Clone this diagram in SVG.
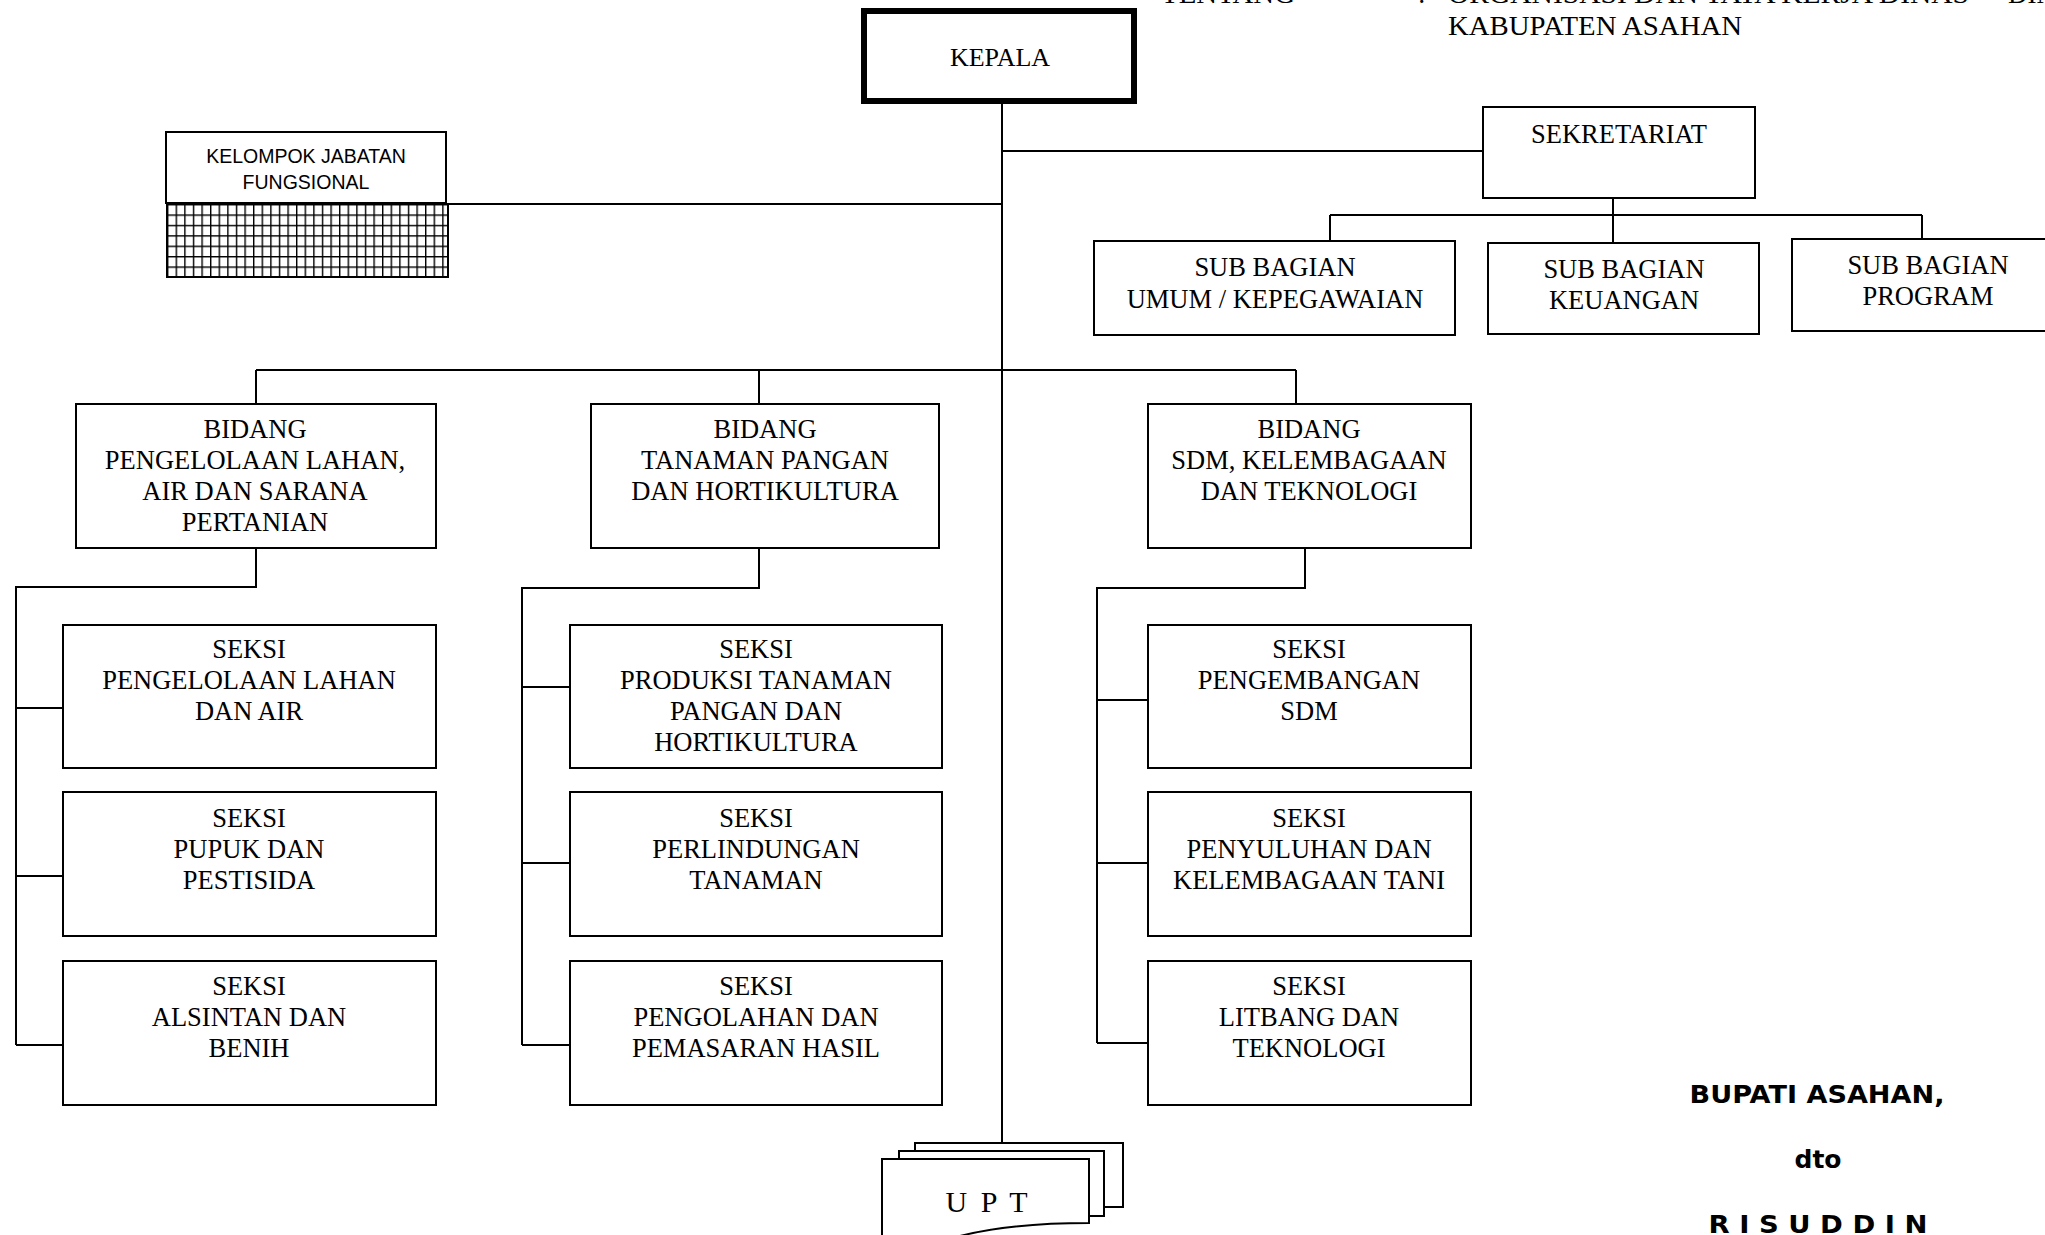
<svg xmlns="http://www.w3.org/2000/svg" width="2045" height="1235" viewBox="0 0 2045 1235">
  <style>
    .box { fill: #fff; stroke: #000; stroke-width: 2; }
    .ln { stroke: #000; stroke-width: 2; fill: none; }
    .t { font-family: "Liberation Serif", "Times New Roman", serif; font-size: 26.5px; text-anchor: middle; fill: #000; }
    .hdr { font-family: "Liberation Serif", "Times New Roman", serif; font-size: 27px; fill: #000; }
    .sans { font-family: "Liberation Sans", Arial, sans-serif; font-size: 19.5px; text-anchor: middle; fill: #000; }
    .sign { font-family: "DejaVu Sans", Verdana, sans-serif; font-weight: bold; font-size: 25px; text-anchor: middle; fill: #000; }
  </style>
  <defs>
    <pattern id="grid" width="8.6" height="10.4" patternUnits="userSpaceOnUse" x="167" y="204">
      <rect width="8.6" height="10.4" fill="#fff"/>
      <path d="M0 0 V10.4 M0 0 H8.6" stroke="#000" stroke-width="2.8" fill="none"/>
    </pattern>
  </defs>
  <rect width="2045" height="1235" fill="#fff"/>

  <!-- page header (runs off the top of the page) -->
  <g id="header">
    <text class="hdr" x="1161" y="3" textLength="134" lengthAdjust="spacingAndGlyphs">TENTANG</text>
    <text class="hdr" x="1418" y="3">:</text>
    <text class="hdr" x="1448" y="3" textLength="521" lengthAdjust="spacingAndGlyphs">ORGANISASI DAN TATA KERJA DINAS</text>
    <text class="hdr" x="2008" y="3">DINAS</text>
    <text class="hdr" x="1448" y="35" textLength="294" lengthAdjust="spacingAndGlyphs">KABUPATEN ASAHAN</text>
  </g>

  <!-- connectors -->
  <g id="connectors" class="ln">
    <!-- main trunk -->
    <line x1="1002" y1="104" x2="1002" y2="1143"/>
    <line x1="1002" y1="151" x2="1483" y2="151"/>
    <line x1="446" y1="204" x2="1002" y2="204"/>
    <!-- secretariat branches -->
    <line x1="1613" y1="198" x2="1613" y2="243"/>
    <line x1="1330" y1="215" x2="1922" y2="215"/>
    <line x1="1330" y1="215" x2="1330" y2="241"/>
    <line x1="1922" y1="215" x2="1922" y2="239"/>
    <!-- bidang bus -->
    <line x1="256" y1="370" x2="1296" y2="370"/>
    <line x1="256" y1="370" x2="256" y2="404"/>
    <line x1="759" y1="370" x2="759" y2="404"/>
    <line x1="1296" y1="370" x2="1296" y2="404"/>
    <!-- left column -->
    <polyline points="256,548 256,587 16,587 16,1045"/>
    <line x1="16" y1="708" x2="63" y2="708"/>
    <line x1="16" y1="876" x2="63" y2="876"/>
    <line x1="16" y1="1045" x2="63" y2="1045"/>
    <!-- middle column -->
    <polyline points="759,548 759,588 522,588 522,1045"/>
    <line x1="522" y1="687" x2="570" y2="687"/>
    <line x1="522" y1="863" x2="570" y2="863"/>
    <line x1="522" y1="1045" x2="570" y2="1045"/>
    <!-- right column -->
    <polyline points="1305,548 1305,588 1097,588 1097,1043"/>
    <line x1="1097" y1="700" x2="1148" y2="700"/>
    <line x1="1097" y1="863" x2="1148" y2="863"/>
    <line x1="1097" y1="1043" x2="1148" y2="1043"/>
  </g>

  <g id="kepala">
    <rect x="864" y="11" width="270" height="90" fill="#fff" stroke="#000" stroke-width="6"/>
    <text class="t" x="1000" y="66" style="font-size:26px">KEPALA</text>
  </g>

  <g id="kelompok-jabatan-fungsional">
    <rect class="box" x="166" y="132" width="280" height="71"/>
    <rect x="167" y="204" width="281" height="73" fill="url(#grid)" stroke="#000" stroke-width="2"/>
    <text class="sans" x="306" y="163">KELOMPOK JABATAN</text>
    <text class="sans" x="306" y="189">FUNGSIONAL</text>
  </g>

  <g id="sekretariat">
    <rect class="box" x="1483" y="107" width="272" height="91"/>
    <text class="t" x="1619" y="143">SEKRETARIAT</text>
  </g>

  <g id="subbag-umum">
    <rect class="box" x="1094" y="241" width="361" height="94"/>
    <text class="t" x="1275" y="276">SUB BAGIAN</text>
    <text class="t" x="1275" y="308">UMUM / KEPEGAWAIAN</text>
  </g>

  <g id="subbag-keuangan">
    <rect class="box" x="1488" y="243" width="271" height="91"/>
    <text class="t" x="1624" y="278">SUB BAGIAN</text>
    <text class="t" x="1624" y="309">KEUANGAN</text>
  </g>

  <g id="subbag-program">
    <rect class="box" x="1792" y="239" width="270" height="92"/>
    <text class="t" x="1928" y="274">SUB BAGIAN</text>
    <text class="t" x="1928" y="305">PROGRAM</text>
  </g>

  <!-- bidang -->
  <g id="bidang-lahan">
    <rect class="box" x="76" y="404" width="360" height="144"/>
    <text class="t" x="255" y="438">BIDANG</text>
    <text class="t" x="255" y="469">PENGELOLAAN LAHAN,</text>
    <text class="t" x="255" y="500">AIR DAN SARANA</text>
    <text class="t" x="255" y="531">PERTANIAN</text>
  </g>

  <g id="bidang-tanaman">
    <rect class="box" x="591" y="404" width="348" height="144"/>
    <text class="t" x="765" y="438">BIDANG</text>
    <text class="t" x="765" y="469">TANAMAN PANGAN</text>
    <text class="t" x="765" y="500">DAN HORTIKULTURA</text>
  </g>

  <g id="bidang-sdm">
    <rect class="box" x="1148" y="404" width="323" height="144"/>
    <text class="t" x="1309" y="438">BIDANG</text>
    <text class="t" x="1309" y="469">SDM, KELEMBAGAAN</text>
    <text class="t" x="1309" y="500">DAN TEKNOLOGI</text>
  </g>

  <!-- seksi, left column -->
  <g id="seksi-lahan-air">
    <rect class="box" x="63" y="625" width="373" height="143"/>
    <text class="t" x="249" y="658">SEKSI</text>
    <text class="t" x="249" y="689">PENGELOLAAN LAHAN</text>
    <text class="t" x="249" y="720">DAN AIR</text>
  </g>
  <g id="seksi-pupuk">
    <rect class="box" x="63" y="792" width="373" height="144"/>
    <text class="t" x="249" y="827">SEKSI</text>
    <text class="t" x="249" y="858">PUPUK DAN</text>
    <text class="t" x="249" y="889">PESTISIDA</text>
  </g>
  <g id="seksi-alsintan">
    <rect class="box" x="63" y="961" width="373" height="144"/>
    <text class="t" x="249" y="995">SEKSI</text>
    <text class="t" x="249" y="1026">ALSINTAN DAN</text>
    <text class="t" x="249" y="1057">BENIH</text>
  </g>

  <!-- seksi, middle column -->
  <g id="seksi-produksi">
    <rect class="box" x="570" y="625" width="372" height="143"/>
    <text class="t" x="756" y="658">SEKSI</text>
    <text class="t" x="756" y="689">PRODUKSI TANAMAN</text>
    <text class="t" x="756" y="720">PANGAN DAN</text>
    <text class="t" x="756" y="751">HORTIKULTURA</text>
  </g>
  <g id="seksi-perlindungan">
    <rect class="box" x="570" y="792" width="372" height="144"/>
    <text class="t" x="756" y="827">SEKSI</text>
    <text class="t" x="756" y="858">PERLINDUNGAN</text>
    <text class="t" x="756" y="889">TANAMAN</text>
  </g>
  <g id="seksi-pengolahan">
    <rect class="box" x="570" y="961" width="372" height="144"/>
    <text class="t" x="756" y="995">SEKSI</text>
    <text class="t" x="756" y="1026">PENGOLAHAN DAN</text>
    <text class="t" x="756" y="1057">PEMASARAN HASIL</text>
  </g>

  <!-- seksi, right column -->
  <g id="seksi-sdm">
    <rect class="box" x="1148" y="625" width="323" height="143"/>
    <text class="t" x="1309" y="658">SEKSI</text>
    <text class="t" x="1309" y="689">PENGEMBANGAN</text>
    <text class="t" x="1309" y="720">SDM</text>
  </g>
  <g id="seksi-penyuluhan">
    <rect class="box" x="1148" y="792" width="323" height="144"/>
    <text class="t" x="1309" y="827">SEKSI</text>
    <text class="t" x="1309" y="858">PENYULUHAN DAN</text>
    <text class="t" x="1309" y="889">KELEMBAGAAN TANI</text>
  </g>
  <g id="seksi-litbang">
    <rect class="box" x="1148" y="961" width="323" height="144"/>
    <text class="t" x="1309" y="995">SEKSI</text>
    <text class="t" x="1309" y="1026">LITBANG DAN</text>
    <text class="t" x="1309" y="1057">TEKNOLOGI</text>
  </g>

  <!-- UPT: stacked document sheets -->
  <g id="upt">
    <rect class="box" x="915" y="1143" width="208" height="64"/>
    <rect class="box" x="899" y="1151" width="205" height="65"/>
    <path class="box" d="M882 1159 H1089 V1223 C1045 1223 1000 1226 960 1236 C930 1244 905 1248 882 1246 Z"/>
    <text class="t" x="988" y="1212" style="font-size:30px;letter-spacing:3px">U P T</text>
  </g>

  <!-- signature block -->
  <g id="signature">
    <text class="sign" x="1817" y="1103" textLength="255" lengthAdjust="spacingAndGlyphs">BUPATI ASAHAN,</text>
    <text class="sign" x="1818" y="1168">dto</text>
    <text class="sign" x="1818" y="1233" textLength="219" lengthAdjust="spacingAndGlyphs">R I S U D D I N</text>
  </g>
</svg>
